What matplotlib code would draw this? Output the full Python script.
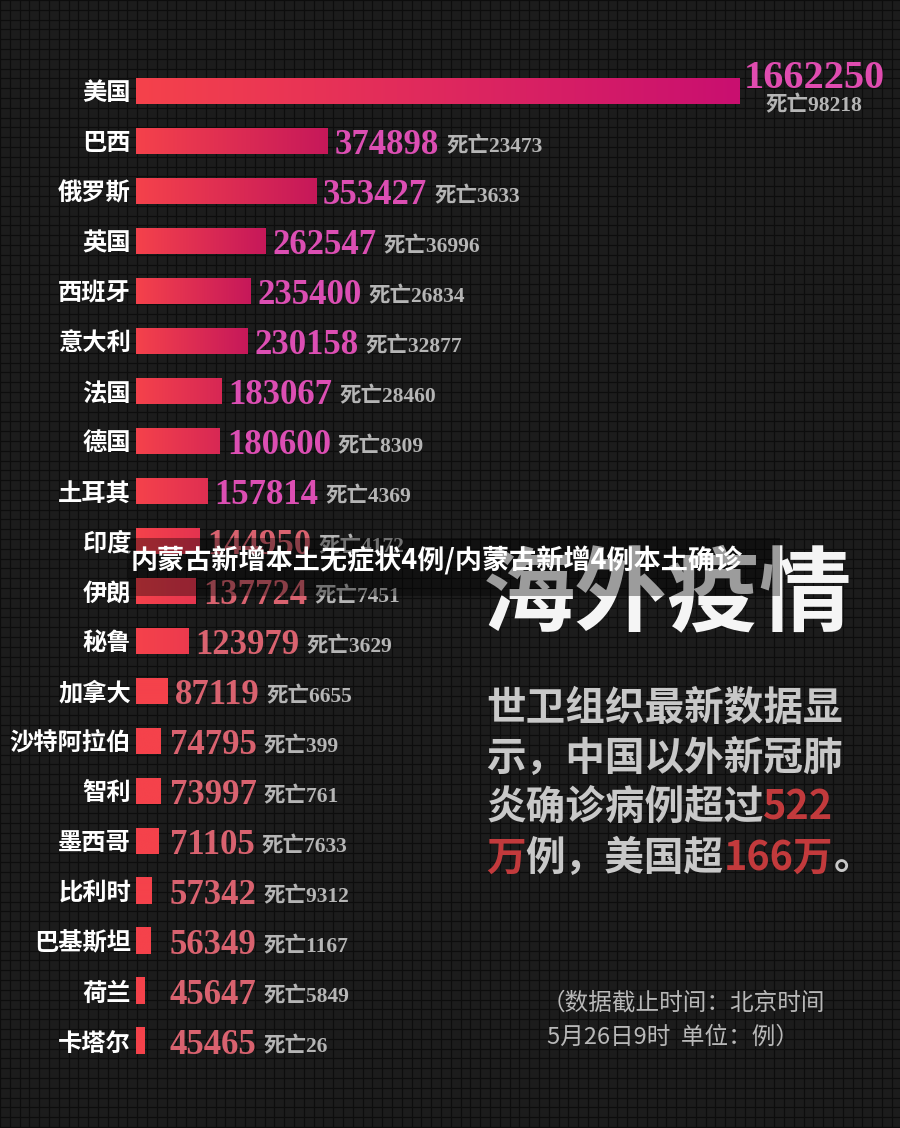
import numpy as np
import matplotlib
matplotlib.use('Agg')
import matplotlib.pyplot as plt
from matplotlib.colors import LinearSegmentedColormap, to_rgb

plt.rcParams['font.family'] = ['Noto Sans CJK SC', 'DejaVu Sans']

# ── data ──
countries = ["美国", "巴西", "俄罗斯", "英国", "西班牙", "意大利", "法国", "德国", "土耳其", "印度",
             "伊朗", "秘鲁", "加拿大", "沙特阿拉伯", "智利", "墨西哥", "比利时", "巴基斯坦", "荷兰", "卡塔尔"]
cases = [1662250, 374898, 353427, 262547, 235400, 230158, 183067, 180600, 157814, 144950,
         137724, 123979, 87119, 74795, 73997, 71105, 57342, 56349, 45647, 45465]
deaths = [98218, 23473, 3633, 36996, 26834, 32877, 28460, 8309, 4369, 4172,
          7451, 3629, 6655, 399, 761, 7633, 9312, 1167, 5849, 26]

title = "海外疫情"
GRAY_T = '#c8c8c8'; RED_T = '#c23a3c'
para = [[("世卫组织最新数据显", GRAY_T)],
        [("示，中国以外新冠肺", GRAY_T)],
        [("炎确诊病例超过", GRAY_T), ("522", RED_T)],
        [("万", RED_T), ("例，美国超", GRAY_T), ("166万", RED_T), ("。", GRAY_T)]]
note = ["（数据截止时间：北京时间", "5月26日9时  单位：例）"]
watermark = "内蒙古新增本土无症状4例/内蒙古新增4例本土确诊"

SERIF = ['Liberation Serif', 'Noto Sans CJK SC']
CJK = ['Noto Sans CJK SC', 'DejaVu Sans']
W, H = 900, 1128
XMIN, XMAX = 30000, 1115000

fig = plt.figure(figsize=(9, 11.28), dpi=100, facecolor='#1c1c1c')

# ── background grid (pixel coords) ──
bg = fig.add_axes([0, 0, 1, 1], zorder=-1)
bg.set_xlim(0, W); bg.set_ylim(H, 0); bg.axis('off')
bg.add_patch(plt.Rectangle((0, 0), W, H, color='#1c1c1c', zorder=0))
for gx in np.arange(0, W, 9.8):
    bg.axvline(gx, color='#0d0d0d', lw=0.85, zorder=1)
for gy in np.arange(0, H, 9.8):
    bg.axhline(gy, color='#0d0d0d', lw=0.85, zorder=1)

# ── bars ──
ax = fig.add_axes([136 / W, 1 - 1066 / H, 604 / W, 1000 / H])
ax.patch.set_alpha(0)
n = len(countries)
ypos = np.arange(n)
bars = ax.barh(ypos, cases, height=0.52, left=0, color='#f5424b', zorder=2)

c0 = np.array(to_rgb('#f5424b'))
cdark = np.array(to_rgb('#c6185a'))
grad = np.linspace(0, 1, 256).reshape(1, -1)
for i, (b, v) in enumerate(zip(bars, cases)):
    x1 = min(v, XMAX)
    if v > XMAX:
        cend = to_rgb('#c90f70')
    else:
        s = np.clip((v - 100000) / 130000, 0, 1)
        cend = tuple(c0 * (1 - s) + cdark * s)
    cm = LinearSegmentedColormap.from_list(f"g{i}", [tuple(c0), cend])
    ax.imshow(grad, cmap=cm, aspect='auto', zorder=3,
              extent=[XMIN, x1, i - 0.26, i + 0.26], interpolation='bilinear')

ax.set_xlim(XMIN, XMAX)
ax.set_ylim(n - 0.5, -0.5)
ax.set_yticks(ypos, countries)
ax.tick_params(axis='y', length=0, pad=3.6, colors='white')
for t in ax.get_yticklabels():
    t.set_fontfamily(CJK); t.set_fontweight('bold'); t.set_fontsize(17.5)
ax.set_xticks([])
for sp in ax.spines.values():
    sp.set_visible(False)

# ── value / death labels ──
lab_min = XMIN + (XMAX - XMIN) * 27 / 604
for i, (v, d) in enumerate(zip(cases, deaths)):
    vcol = '#dc4eb3' if i < 9 else '#d9626f'
    if v > XMAX:
        ax.annotate(f"{v}", xy=(XMAX, i), xytext=(3, 12), textcoords='offset points',
                    ha='left', va='center_baseline', color='#e04cb0', fontsize=29,
                    fontweight='bold', family=SERIF, annotation_clip=False)
        ax.annotate(f"死亡{d}", xy=(XMAX, i), xytext=(53, -9), textcoords='offset points',
                    ha='center', va='center_baseline', color='#b5b5b5', fontsize=15.5,
                    fontweight='bold', family=SERIF, annotation_clip=False)
        continue
    t = ax.annotate(f"{v}", xy=(max(v, lab_min), i), xytext=(5, 0), textcoords='offset points',
                    ha='left', va='center_baseline', color=vcol, fontsize=25,
                    fontweight='bold', family=SERIF, annotation_clip=False)
    ax.annotate(f"死亡{d}", xy=(1, 0.5), xycoords=t, xytext=(5, -1.5), textcoords='offset points',
                ha='left', va='center', color='#b5b5b5', fontsize=15.5,
                fontweight='bold', family=SERIF, annotation_clip=False)

# ── right-hand text block ──
bg.text(483, 596, title, ha='left', va='center', color='#f5f5f5', fontsize=66.5,
        fontweight='bold', family=CJK, zorder=5)
for k, line in enumerate(para):
    y = 708 + 50 * k
    prev = None
    for txt, col in line:
        if prev is None:
            prev = bg.text(486, y, txt, ha='left', va='center', color=col, fontsize=28.5,
                           fontweight='bold', family=CJK, zorder=5)
        else:
            prev = bg.annotate(txt, xy=(1, 0), xycoords=prev, ha='left', va='bottom',
                               color=col, fontsize=28.5, fontweight='bold', family=CJK, zorder=5)
bg.text(542, 1003, note[0], ha='left', va='center', color='#b8b8b8', fontsize=17, family=CJK, zorder=5)
bg.text(547, 1037, note[1], ha='left', va='center', color='#b8b8b8', fontsize=17, family=CJK, zorder=5)

# ── watermark overlay ──
top = fig.add_axes([0, 0, 1, 1], zorder=5)
top.set_xlim(0, W); top.set_ylim(H, 0); top.axis('off')
top.add_patch(plt.Rectangle((128, 538), 652, 58, color='black', alpha=0.36, lw=0))
top.text(131, 561, watermark, ha='left', va='center', color='white', fontsize=19.5,
         fontweight='bold', family=CJK)

fig.savefig("out.png", dpi=100, facecolor=fig.get_facecolor())
